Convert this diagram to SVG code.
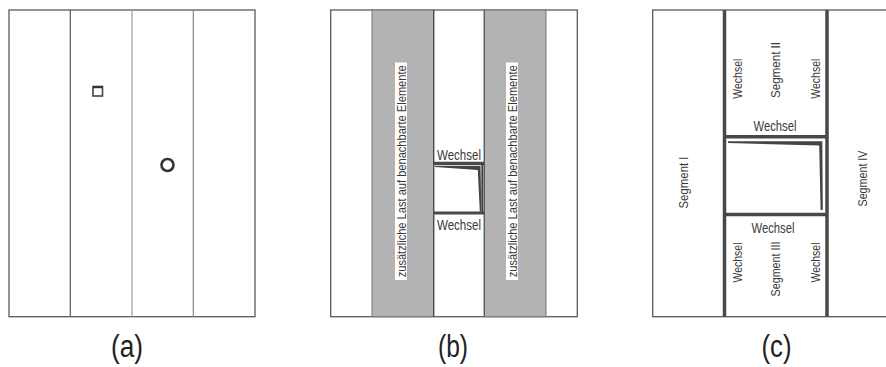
<svg xmlns="http://www.w3.org/2000/svg" width="886" height="367" viewBox="0 0 886 367">
<style>
.frame{fill:#fff;stroke:#5a5a5a;stroke-width:1.3}
.thin{stroke:#555;stroke-width:1.2;fill:none}
.thick{stroke:#484848;stroke-width:3.5;fill:none}
.band{fill:#b3b3b3;stroke:#777;stroke-width:1}
.lbl{font-family:"Liberation Sans",Arial,sans-serif;font-size:13px;fill:#3a3a3a;text-anchor:middle}
.rz{font-size:12.5px}
.hz{font-size:15.5px}
.hb{font-size:14px}
.cap{font-family:"Liberation Sans",Arial,sans-serif;font-size:31px;fill:#222;text-anchor:middle}
.wedge{fill:#444}
</style>
<rect width="886" height="367" fill="#fff"/>
<g id="panel-a">
  <rect class="frame" x="9" y="10" width="246" height="306.7"/>
  <line class="thin" x1="70.3" y1="10" x2="70.3" y2="316.7" stroke="#444"/>
  <line class="thin" x1="132" y1="10" x2="132" y2="316.7" style="stroke:#999"/>
  <line class="thin" x1="193.3" y1="10" x2="193.3" y2="316.7" style="stroke:#888"/>
  <rect id="square" x="93" y="86.5" width="9.5" height="9.5" fill="#fff" stroke="#444" stroke-width="1.6"/>
  <line x1="93" y1="87.2" x2="102.5" y2="87.2" stroke="#333" stroke-width="2"/>
  <circle id="hole" cx="167.5" cy="165" r="6" fill="#fff" stroke="#333" stroke-width="2.6"/>
  <text class="cap" x="127" y="357" textLength="32" lengthAdjust="spacingAndGlyphs">(a)</text>
</g>
<g id="panel-b">
  <rect class="frame" x="330.7" y="10" width="246.6" height="306.7"/>
  <rect class="band" x="372" y="10" width="61.7" height="306.7"/>
  <rect class="band" x="484.3" y="10" width="61.7" height="306.7"/>
  <line class="thin" x1="433.7" y1="10" x2="433.7" y2="316.7" style="stroke:#444"/>
  <line class="thin" x1="484.3" y1="10" x2="484.3" y2="316.7" style="stroke:#555"/>
  <g id="load-left">
    <rect x="395" y="62.5" width="12" height="217.5" fill="#fff"/>
    <text class="lbl rz" transform="translate(405.6,171.3) rotate(-90)" textLength="212" lengthAdjust="spacingAndGlyphs">zusätzliche Last auf benachbarte Elemente</text>
  </g>
  <g id="load-right">
    <rect x="506" y="62.5" width="12" height="217.5" fill="#fff"/>
    <text class="lbl rz" transform="translate(516.6,171.3) rotate(-90)" textLength="212" lengthAdjust="spacingAndGlyphs">zusätzliche Last auf benachbarte Elemente</text>
  </g>
  <g id="opening-b">
    <line class="thick" x1="434" y1="163.5" x2="484" y2="163.5"/>
    <line class="thick" x1="434" y1="213" x2="484" y2="213" style="stroke-width:3"/>
    <line x1="482.3" y1="163" x2="482.3" y2="213" stroke="#444" stroke-width="2"/>
    <polygon class="wedge" points="435,166 480.5,166 481.3,211.5 479.8,211.5 477.8,170 435,167"/>
    <text class="lbl hb" x="459" y="160" textLength="44" lengthAdjust="spacingAndGlyphs">Wechsel</text>
    <text class="lbl hb" x="459" y="230" textLength="44" lengthAdjust="spacingAndGlyphs">Wechsel</text>
  </g>
  <text class="cap" x="453" y="357" textLength="30" lengthAdjust="spacingAndGlyphs">(b)</text>
</g>
<g id="panel-c">
  <rect class="frame" x="652.7" y="10" width="240" height="306.7"/>
  <line class="thick" x1="724.5" y1="10" x2="724.5" y2="316.7"/>
  <line class="thick" x1="827" y1="10" x2="827" y2="316.7"/>
  <line class="thick" x1="724.5" y1="136.7" x2="827" y2="136.7"/>
  <line class="thick" x1="724.5" y1="214.5" x2="827" y2="214.5"/>
  <polygon class="wedge" points="728,141.3 822.3,141.3 822.8,210 820.6,210 819.2,145.5 728,143"/>
  <text class="lbl" transform="translate(688,182.5) rotate(-90)" textLength="52" lengthAdjust="spacingAndGlyphs">Segment I</text>
  <text class="lbl" transform="translate(866.5,178.5) rotate(-90)" textLength="56" lengthAdjust="spacingAndGlyphs">Segment IV</text>
  <g id="segment-ii">
    <text class="lbl" transform="translate(742.2,78.7) rotate(-90)" textLength="40" lengthAdjust="spacingAndGlyphs">Wechsel</text>
    <text class="lbl" transform="translate(780,70) rotate(-90)" textLength="56" lengthAdjust="spacingAndGlyphs">Segment II</text>
    <text class="lbl" transform="translate(819.8,78.7) rotate(-90)" textLength="40" lengthAdjust="spacingAndGlyphs">Wechsel</text>
    <text class="lbl hz" x="775" y="131" textLength="43" lengthAdjust="spacingAndGlyphs">Wechsel</text>
  </g>
  <g id="segment-iii">
    <text class="lbl hz" x="773" y="233" textLength="43" lengthAdjust="spacingAndGlyphs">Wechsel</text>
    <text class="lbl" transform="translate(742.2,262.5) rotate(-90)" textLength="40" lengthAdjust="spacingAndGlyphs">Wechsel</text>
    <text class="lbl" transform="translate(780,269) rotate(-90)" textLength="55" lengthAdjust="spacingAndGlyphs">Segment III</text>
    <text class="lbl" transform="translate(819.8,262.5) rotate(-90)" textLength="40" lengthAdjust="spacingAndGlyphs">Wechsel</text>
  </g>
  <text class="cap" x="776.5" y="357" textLength="30" lengthAdjust="spacingAndGlyphs">(c)</text>
</g>
</svg>
